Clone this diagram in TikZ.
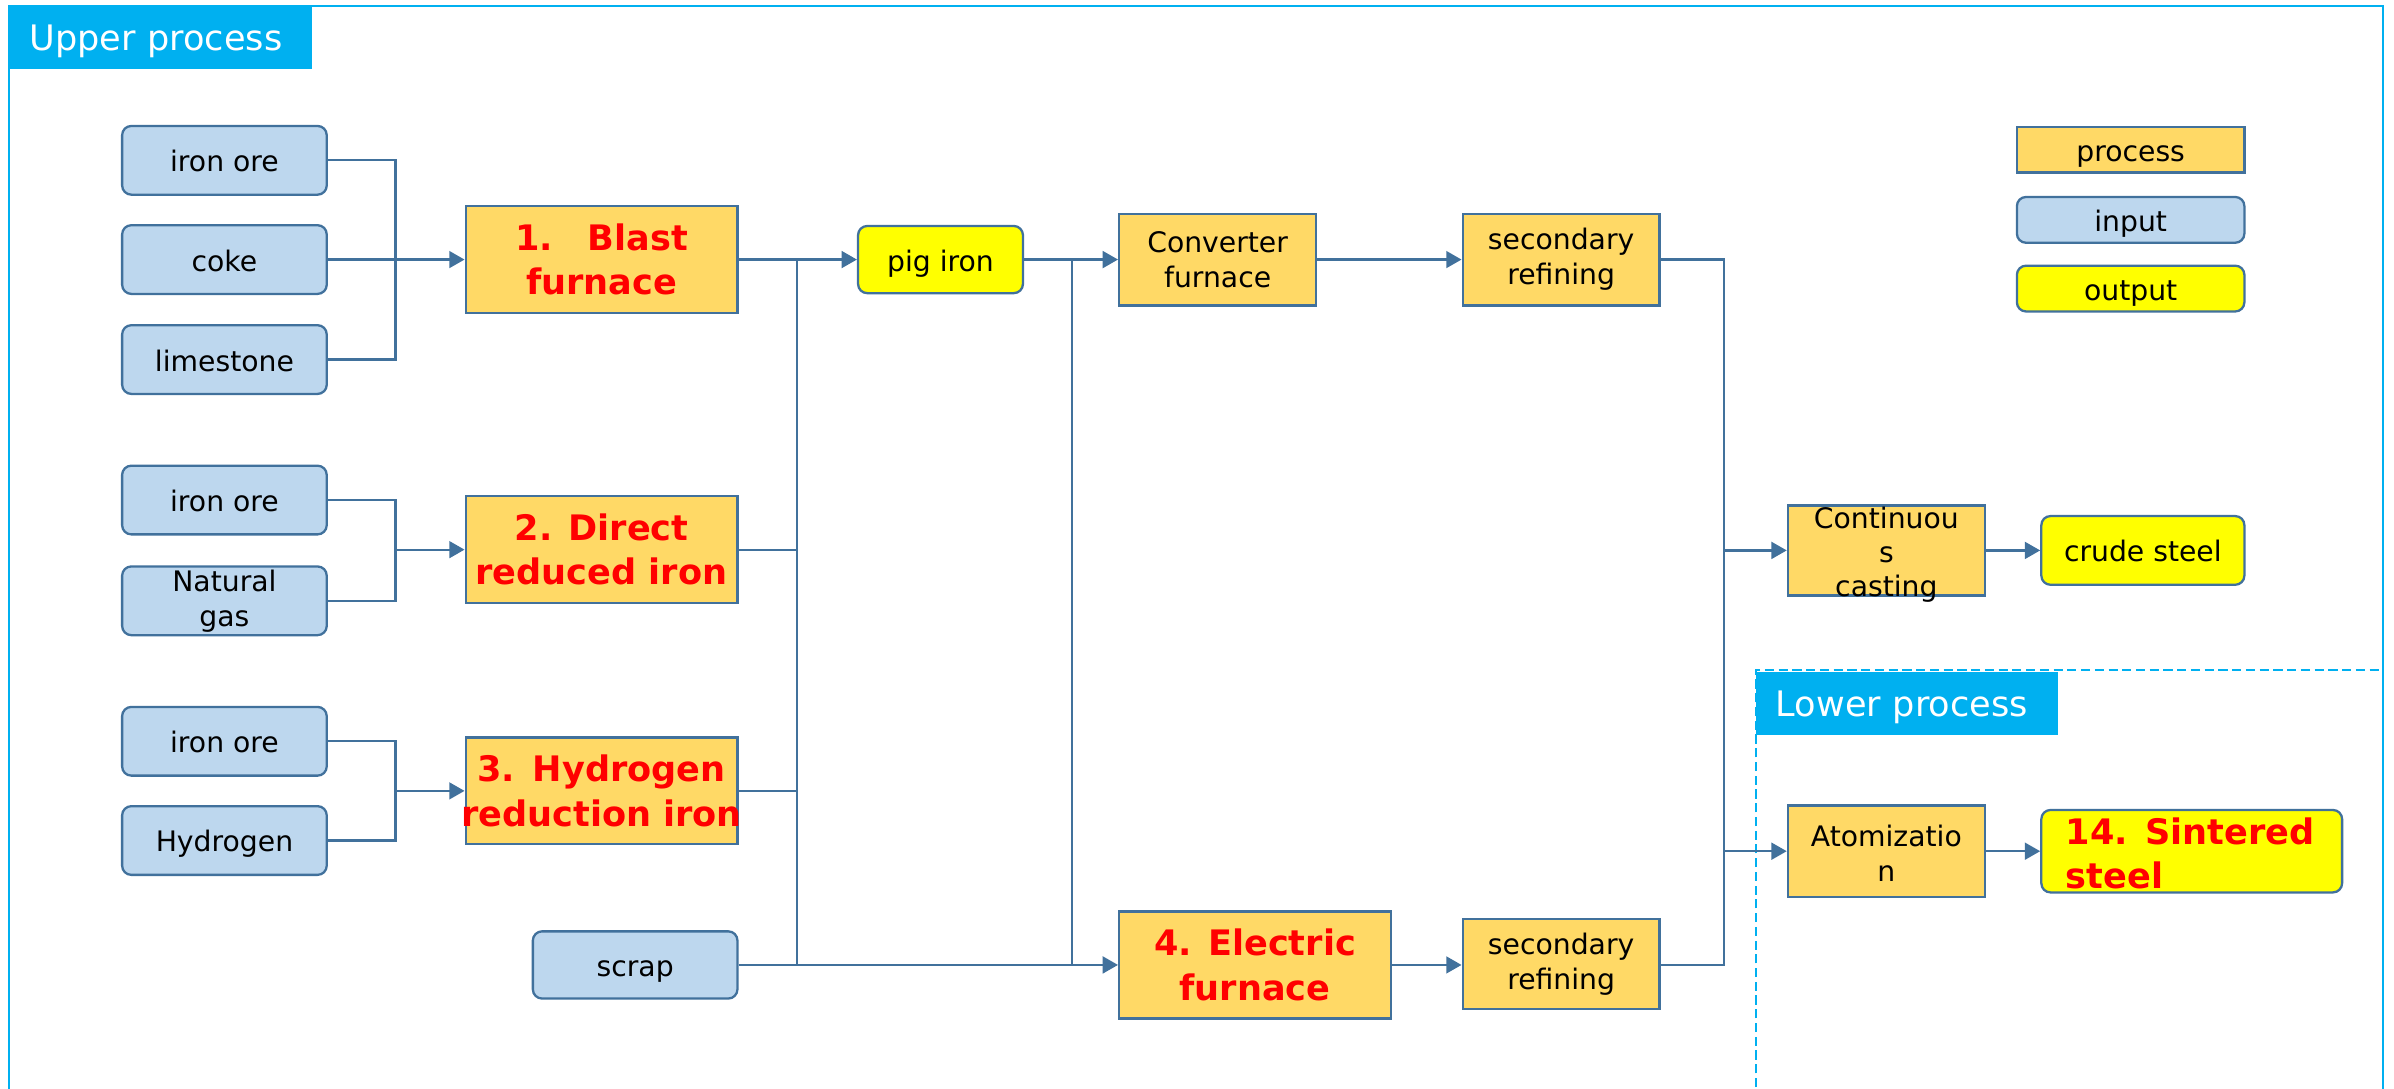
\documentclass[tikz,border=0pt]{standalone}
\usepackage{fontspec}
\setmainfont{DejaVu Sans}
\usetikzlibrary{arrows.meta}
\definecolor{lnblue}{HTML}{41719C}
\definecolor{frblue}{HTML}{00B0F0}
\definecolor{procfill}{HTML}{FFD966}
\definecolor{infill}{HTML}{BDD7EE}
\definecolor{outfill}{HTML}{FFFF00}
\definecolor{redtxt}{HTML}{FF0000}
\newcommand{\toplines}[3]{\raisebox{#1}[0pt][0pt]{\begin{tabular}[t]{@{}#2@{}}#3\end{tabular}}}
\begin{document}
\begin{tikzpicture}[x=1pt,y=-1pt,
 base/.style={draw=lnblue,line width=1.5pt,inner sep=0pt,align=center,font=\fontsize{18.5}{23}\selectfont},
 one/.style={text height=16pt,text depth=1pt},
 procbox/.style={base,fill=procfill},
 inbox/.style={base,fill=infill,rounded corners=6pt,minimum width=134pt,minimum height=45pt},
 outbox/.style={base,fill=outfill,rounded corners=6pt},
 redbold/.style={text=redtxt,font=\fontsize{23}{29}\selectfont\bfseries},
 conn/.style={draw=lnblue,line width=1.5pt},
 arr/.style={conn,-{Triangle[length=10pt,width=11pt]}},
 tag/.style={fill=frblue,text=white,inner ysep=0pt,inner xsep=13pt,text width=172pt,align=left,
   minimum height=41pt,text height=19pt,text depth=2pt,font=\fontsize{23}{28}\selectfont,anchor=north west}
]
\useasboundingbox (0,0) rectangle (1568,713);
\fill[white] (0,0) rectangle (1568,713);
% frames
\draw[frblue,line width=1.5pt] (6,730) -- (6,4) -- (1561,4) -- (1561,730);
\draw[frblue,line width=1.5pt,dash pattern=on 6pt off 3pt] (1150,730) -- (1150,439) -- (1561,439);
\node[tag] (upper) at (6,4) {Upper process};
\node[tag] (lower) at (1150,440) {Lower process};

% inputs
\node[inbox,one] (ore1) at (147,105) {iron ore};
\node[inbox,one] (coke) at (147,170) {coke};
\node[inbox,one] (lime) at (147,235.5) {limestone};
\node[inbox,one] (ore2) at (147,327.5) {iron ore};
\node[inbox] (gas) at (147,393.5) {Natural\\gas};
\node[inbox,one] (ore3) at (147,485.5) {iron ore};
\node[inbox,one] (hyd) at (147,550.5) {Hydrogen};
\node[inbox,one,minimum height=44pt] (scrap) at (416,632) {scrap};

% processes
\node[procbox,redbold,minimum width=178pt,minimum height=70pt] (bf) at (394,170) {1.\quad Blast\\furnace};
\node[procbox,redbold,minimum width=178pt,minimum height=70pt] (dri) at (394,360) {2. Direct\\reduced iron};
\node[procbox,redbold,minimum width=178pt,minimum height=70pt,text width=178pt] (hri) at (394,518) {3. Hydrogen\\\makebox[178pt][c]{reduction iron}};
\node[procbox,redbold,minimum width=178pt,minimum height=70pt] (ef) at (822,632) {4. Electric\\furnace};
\node[procbox,minimum width=129pt,minimum height=60pt] (conv) at (797.5,170) {Converter\\furnace};
\node[procbox,minimum width=129pt,minimum height=60pt] (sr1) at (1022.5,170) {secondary\\refining};
\node[procbox,minimum width=129pt,minimum height=59pt] (sr2) at (1022.5,631.5) {secondary\\refining};
\node[procbox,minimum width=129pt,minimum height=59pt,font=\fontsize{18.5}{22.5}\selectfont] (cc) at (1235.5,360.5) {\toplines{14.5pt}{c}{Continuou\\s\\casting}};
\node[procbox,minimum width=129pt,minimum height=60pt,font=\fontsize{18.5}{23}\selectfont] (atom) at (1235.5,557.5) {\toplines{3pt}{c}{Atomizatio\\n}};

% outputs
\node[outbox,one,minimum width=108pt,minimum height=44pt] (pig) at (616,170) {pig iron};
\node[outbox,one,minimum width=133pt,minimum height=45pt] (crude) at (1403.5,360.5) {crude steel};
\node[outbox,redbold,minimum width=197pt,minimum height=54pt,text width=165pt,inner xsep=16pt,align=left] (sint) at (1435.5,557.5) {\toplines{4.5pt}{l}{14. Sintered\\steel}};

% legend
\node[procbox,one,minimum width=149pt,minimum height=30pt] (lp) at (1395.5,98) {process};
\node[inbox,one,minimum width=149pt,minimum height=30pt] (li) at (1395.5,144) {input};
\node[outbox,one,minimum width=149pt,minimum height=30pt] (lo) at (1395.5,189) {output};

% junction coordinates
\coordinate (m1) at (259,170);
\coordinate (m2) at (259,360);
\coordinate (m3) at (259,518);
\coordinate (b1t) at (522,170);
\coordinate (b1b) at (522,632);
\coordinate (b2t) at (702,170);
\coordinate (b2b) at (702,632);
\coordinate (b3t) at (1129,170);
\coordinate (b3b) at (1129,632);

% connectors
\draw[conn] (ore1.east) -| (m1);
\draw[conn] (lime.east) -| (m1);
\draw[arr] (coke.east) -- (bf.west);
\draw[conn] (ore2.east) -| (m2);
\draw[conn] (gas.east) -| (m2);
\draw[arr] (m2) -- (dri.west);
\draw[conn] (ore3.east) -| (m3);
\draw[conn] (hyd.east) -| (m3);
\draw[arr] (m3) -- (hri.west);

\draw[arr] (bf.east) -- (pig.west);
\draw[conn] (b1t) -- (b1b);
\draw[conn] (dri.east) -- (dri.east -| b1t);
\draw[conn] (hri.east) -- (hri.east -| b1t);
\draw[arr] (scrap.east) -- (ef.west);
\draw[arr] (pig.east) -- (conv.west);
\draw[conn] (b2t) -- (b2b);
\draw[arr] (conv.east) -- (sr1.west);
\draw[arr] (ef.east) -- (ef.east -| sr2.west);
\draw[conn] (sr1.east) -- (b3t) -- (b3b) -- (b3b -| sr2.east);
\draw[arr] (cc.west -| b3t) -- (cc.west);
\draw[arr] (atom.west -| b3t) -- (atom.west);
\draw[arr] (cc.east) -- (crude.west);
\draw[arr] (atom.east) -- (sint.west);
\end{tikzpicture}
\end{document}
